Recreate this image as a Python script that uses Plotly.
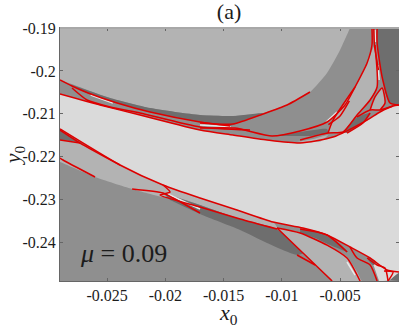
import plotly.graph_objects as go

# axis ticks
x_ticks = [-0.025, -0.02, -0.015, -0.01, -0.005]
x_labels = ["-0.025", "-0.02", "-0.015", "-0.01", "-0.005"]
y_ticks = [-0.19, -0.2, -0.21, -0.22, -0.23, -0.24]
y_labels = ["-0.19", "-0.2", "-0.21", "-0.22", "-0.23", "-0.24"]

# basin regions (outer points run past the frame and get clipped)
upper_x = [-.032, -.0036, -.00414, -.00500, -.00612, -.00758, -.00955, -.01161, -.01419, -.01702, -.02131, -.02474, -.02904, -.032]
upper_y = [-.187, -.187, -.19, -.19513, -.20049, -.20492, -.20795, -.20981, -.21051, -.21028, -.20865, -.20632, -.20212, -.2]

upper_band_x = [-.02818, -.02474, -.02131, -.01702, -.01419, -.01161, -.01358, -.01444, -.01702, -.02131, -.02414, -.02672]
upper_band_y = [-.20305, -.20632, -.20865, -.21028, -.21051, -.20981, -.21191, -.21284, -.21191, -.20958, -.20748, -.20515]

# central band edges
top_x = [-.02904, -.02560, -.02217, -.01702, -.01419, -.01127, -.00843, -.00560, -.00268, -.00157, -.00045, .00006]
top_y = [-.20538, -.20795, -.21028, -.21378, -.21494, -.21611, -.21681, -.21541, -.21145, -.20958, -.20818, -.20795]
bot_x = [.00006, -.00097, -.00242, -.00414, -.00612, -.00818, -.01075, -.01385, -.01702, -.02020, -.02389, -.02904]
bot_y = [-.24688, -.24641, -.24361, -.24105, -.23825, -.23662, -.23522, -.23242, -.22963, -.22660, -.22193, -.21354]
pad_x = [-.032, -.032]
pad_y = [-.208, -.2045]
pad_right_x = [.002, .002]
pad_right_y = [-.2078, -.2475]

corner_x = [-.00182, -.00182, .002, .002, -.00071, -.00139, -.00182]
corner_y = [-.187, -.19, -.187, -.20795, -.20748, -.20142, -.1935]

lens_x = [-.00603, -.00560, -.00371, -.00268, -.00200, -.00182, -.00242, -.00354, -.00474]
lens_y = [-.21448, -.21145, -.20375, -.19816, -.19396, -.20375, -.20678, -.21028, -.21424]
lens2_x = [-.00474, -.00354, -.00242, -.00303, -.00440]
lens2_y = [-.21424, -.21074, -.20981, -.21214, -.21448]
lens3_x = [-.00242, -.00200, -.00139, -.00114, -.00157]
lens3_y = [-.20911, -.20608, -.20398, -.20748, -.20911]
lens4_x = [-.01084, -.00843, -.00612, -.00603, -.00758]
lens4_y = [-.21518, -.21424, -.21354, -.21448, -.21518]
lens5_x = [-.00872, -.00733, -.00603, -.00672]
lens5_y = [-.21657, -.21587, -.21494, -.21657]

left_x = [-.032, -.02904, -.02389, -.02020, -.01702, -.01385, -.01075, -.01041, -.01385, -.01702, -.01916, -.02020, -.02285, -.02603, -.02904, -.032]
left_y = [-.2085, -.21354, -.22193, -.22660, -.22963, -.23242, -.23522, -.23662, -.23429, -.23126, -.22939, -.22939, -.22753, -.22473, -.22124, -.2185]
wedge_x = [-.032, -.02904, -.02389, -.02732, -.02904, -.032]
wedge_y = [-.2085, -.21378, -.22193, -.21681, -.21611, -.2155]
lower_band_x = [-.02020, -.01702, -.01385, -.01050, -.00818, -.00869, -.01127, -.01358, -.01702, -.01959]
lower_band_y = [-.22846, -.23126, -.23429, -.23685, -.24245, -.24291, -.24012, -.23709, -.23336, -.23009]
lower_lens_x = [-.01041, -.00843, -.00612, -.00440, -.00311, -.0028, -.0060, -.00568, -.00714, -.00818]
lower_lens_y = [-.23662, -.23779, -.24059, -.24338, -.24897, -.2515, -.2515, -.24897, -.24524, -.24245]
lower_dark_x = [-.00843, -.00672, -.00526, -.00431, -.00586, -.00714, -.00843]
lower_dark_y = [-.23685, -.23779, -.23988, -.24221, -.24059, -.23895, -.23779]
lower_mid_x = [-.00414, -.00303, -.00217, -.00174, -.00311, -.00371]
lower_mid_y = [-.24105, -.24245, -.24524, -.24897, -.24897, -.24454]
tip_x = [-.00225, -.00097, .00006, -.00071, -.00165]
tip_y = [-.24431, -.24641, -.24688, -.24874, -.24897]
tip_dark_x = [-.00259, -.00182, -.00217, -.00259]
tip_dark_y = [-.24291, -.24454, -.24524, -.24408]
corner2_x = [-.00071, .00006, .00006]
corner2_y = [-.24874, -.24711, -.24897]

# pale gaps in the web
pale_a_x = [-.00200, -.00195]
pale_a_y = [-.19047, -.19326]
pale_b_x = [-.00174, -.00165]
pale_b_y = [-.19862, -.20212]
pale_c_x = [-.00620, -.00526]
pale_c_y = [-.21191, -.20958]
pale_d_x = [-.00440, -.00371]
pale_d_y = [-.24454, -.24758]
pale_e_x = [-.01980, -.01702]
pale_e_y = [-.22870, -.23220]
pale_f_x = [-.02640, -.02450]
pale_f_y = [-.20560, -.20750]
pale_g_x = [-.01702, -.01440]
pale_g_y = [-.21260, -.21300]

# red web
red_a_x = [-.02904, -.02801, -.02663, -.02414, -.02131, -.01702, -.01444]
red_a_y = [-.20212, -.20352, -.20515, -.20748, -.20958, -.21191, -.21284]
red_b_x = [-.02801, -.02672, -.02474, -.02217, -.01702, -.01273]
red_b_y = [-.20399, -.20678, -.20841, -.20981, -.21308, -.21378]
red_c_x = [-.01702, -.01419, -.01161, -.00955, -.00758]
red_c_y = [-.21214, -.21238, -.21005, -.20795, -.20492]
red_d_x = [-.01702, -.01402, -.01084, -.00843, -.00612, -.00457, -.00371, -.00268, -.00226, -.00226]
red_d_y = [-.21331, -.21331, -.21518, -.21401, -.21191, -.20795, -.20375, -.19816, -.19396, -.19]
red_e_x = [-.00182, -.00182, -.00139, -.00071, .00006]
red_e_y = [-.19, -.1935, -.20142, -.20748, -.20795]
red_f_x = [-.00200, -.00182, -.00242, -.00354, -.00474, -.00603, -.00843]
red_f_y = [-.19396, -.20375, -.20678, -.21028, -.21424, -.21448, -.21611]
red_g_x = [-.00603, -.00560, -.00371]
red_g_y = [-.21448, -.21145, -.20375]
red_h_x = [-.00242, -.00303, -.00440]
red_h_y = [-.20981, -.21214, -.21448]
red_i_x = [-.00354, -.00242, -.00157, -.00045]
red_i_y = [-.21074, -.20911, -.20911, -.20818]
red_j_x = [-.00242, -.00200, -.00139, -.00114, -.00157]
red_j_y = [-.20911, -.20608, -.20398, -.20748, -.20911]
red_k_x = [-.02904, -.02732, -.02389]
red_k_y = [-.21378, -.21681, -.22193]
red_l_x = [-.02904, -.02732]
red_l_y = [-.21611, -.21681]
red_m_x = [-.02904, -.02878, -.02603]
red_m_y = [-.2203, -.22077, -.22473]
red_n_x = [-.02285, -.02020, -.01934, -.01702]
red_n_y = [-.22753, -.22846, -.22963, -.23312]
red_o_x = [-.02020, -.01959, -.02045, -.01702, -.01358, -.01041]
red_o_y = [-.2266, -.22823, -.22893, -.23173, -.23452, -.23685]
red_p_x = [-.01041, -.00818, -.00568]
red_p_y = [-.23662, -.24245, -.24897]
red_q_x = [-.00869, -.00714]
red_q_y = [-.24291, -.24524]
red_r_x = [-.00843, -.00612, -.0044]
red_r_y = [-.23685, -.23825, -.24221]
red_s_x = [-.01041, -.00843, -.00612, -.0044, -.00328]
red_s_y = [-.23662, -.23779, -.24059, -.24361, -.24897]
red_t_x = [-.00414, -.00354, -.00242, -.00182]
red_t_y = [-.24105, -.24361, -.24524, -.24897]
red_u_x = [-.00268, -.00182, -.00114, -.00088]
red_u_y = [-.24361, -.24524, -.24594, -.24897]
red_v_x = [-.00088, -.00045, -.00123]
red_v_y = [-.24897, -.24688, -.24664]
red_w_x = [-.00210, -.00205, -.00170]
red_w_y = [-.19, -.19396, -.19980]
red_y_x = [-.00600, -.00500, -.00420]
red_y_y = [-.21250, -.21050, -.20700]

LIGHT = "#b3b3b3"
MID = "#8f8f8f"
DARK = "#6e6e6e"
PALE = "#dadada"
RED = "#dd0000"
FONT = "Liberation Serif"
INK = "#1c1c1c"

fig = go.Figure()

regions = [
    (upper_x, upper_y, LIGHT),
    (upper_band_x, upper_band_y, DARK),
    (left_x, left_y, LIGHT),
    (wedge_x, wedge_y, DARK),
    (lower_band_x, lower_band_y, DARK),
    (lower_lens_x, lower_lens_y, LIGHT),
    (lower_dark_x, lower_dark_y, DARK),
    (lower_mid_x, lower_mid_y, MID),
    (tip_x, tip_y, PALE),
    (tip_dark_x, tip_dark_y, DARK),
    (corner2_x, corner2_y, DARK),
    (top_x + pad_right_x + bot_x + pad_x, top_y + pad_right_y + bot_y + pad_y, PALE),
    (corner_x, corner_y, DARK),
    (lens_x, lens_y, LIGHT),
    (lens2_x, lens2_y, DARK),
    (lens3_x, lens3_y, LIGHT),
    (lens4_x, lens4_y, DARK),
    (lens5_x, lens5_y, LIGHT),
]
for xs, ys, colour in regions:
    fig.add_trace(go.Scatter(x=xs, y=ys, mode="lines", fill="toself", fillcolor=colour,
                             line=dict(width=0, color=colour, shape="spline", smoothing=0.6)))

pale_lines = [(pale_a_x, pale_a_y), (pale_b_x, pale_b_y), (pale_c_x, pale_c_y), (pale_d_x, pale_d_y),
              (pale_e_x, pale_e_y), (pale_f_x, pale_f_y), (pale_g_x, pale_g_y)]
for xs, ys in pale_lines:
    fig.add_trace(go.Scatter(x=xs, y=ys, mode="lines", line=dict(width=1.5, color="#e8e8e8")))

red_lines = [
    (top_x, top_y), (bot_x, bot_y),
    (red_a_x, red_a_y), (red_b_x, red_b_y), (red_c_x, red_c_y), (red_d_x, red_d_y),
    (red_e_x, red_e_y), (red_f_x, red_f_y), (red_g_x, red_g_y), (red_h_x, red_h_y),
    (red_i_x, red_i_y), (red_j_x, red_j_y), (red_k_x, red_k_y), (red_l_x, red_l_y),
    (red_m_x, red_m_y), (red_n_x, red_n_y), (red_o_x, red_o_y), (red_p_x, red_p_y),
    (red_q_x, red_q_y), (red_r_x, red_r_y), (red_s_x, red_s_y), (red_t_x, red_t_y),
    (red_u_x, red_u_y), (red_v_x, red_v_y), (red_w_x, red_w_y), (red_y_x, red_y_y),
]
for xs, ys in red_lines:
    fig.add_trace(go.Scatter(x=xs, y=ys, mode="lines",
                             line=dict(width=1.5, color=RED, shape="spline", smoothing=0.6)))

fig.add_annotation(x=-0.0236, y=-0.2425, text="<i>μ</i> = 0.09", showarrow=False,
                   font=dict(family=FONT, size=26, color=INK))
# axis names as annotations, the axis title standoff does not place them where needed
fig.add_annotation(xref="paper", yref="paper", x=0.4985, y=-0.132, text="<i>x</i><sub>0</sub>", showarrow=False,
                   xanchor="center", yanchor="middle", font=dict(family=FONT, size=22, color=INK))
fig.add_annotation(xref="paper", yref="paper", x=-0.135, y=0.498, text="<i>y</i><sub>0</sub>", showarrow=False,
                   xanchor="center", yanchor="middle", textangle=-90, font=dict(family=FONT, size=22, color=INK))

axis_style = dict(showgrid=False, zeroline=False, ticks="inside", ticklen=3, tickwidth=1,
                  tickcolor="#666666", showline=True, linecolor="#666666", linewidth=1,
                  mirror="ticks", tickfont=dict(family=FONT, size=16, color=INK))

fig.update_layout(
    width=399, height=329, autosize=False, showlegend=False,
    margin=dict(l=60, r=0, t=28, b=48),
    plot_bgcolor=MID, paper_bgcolor="white",
    title=dict(text="(a)", x=0.574, xanchor="center", y=0.965, yanchor="middle",
               font=dict(family=FONT, size=22, color=INK)),
)
fig.update_xaxes(range=[-0.02904, 0.00006], tickvals=x_ticks, ticktext=x_labels, **axis_style)
fig.update_yaxes(range=[-0.24897, -0.19], tickvals=y_ticks, ticktext=y_labels, **axis_style)

# the top edge of the frame is paler than the others
fig.add_shape(type="line", xref="paper", yref="paper", x0=0, x1=1, y0=1, y1=1, layer="above",
              line=dict(color="#a8a8a8", width=2))

fig.write_html("out.html", config=dict(displayModeBar=False), post_script="document.body.style.margin='0'")
